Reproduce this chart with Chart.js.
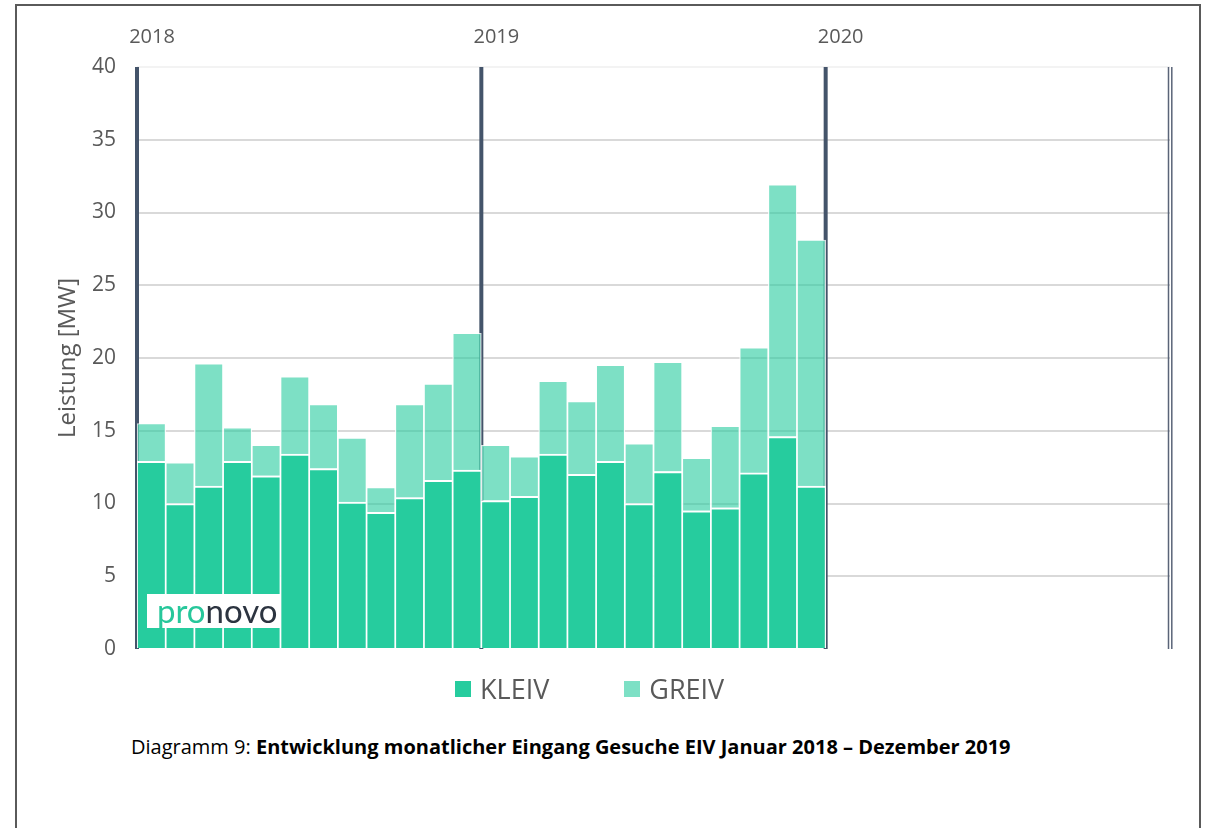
<!DOCTYPE html>
<html>
<head>
<meta charset="utf-8">
<script src="https://cdn.jsdelivr.net/npm/chart.js@4"></script>
<style>
  html, body { margin: 0; background: #fff; font-family: 'Open Sans', sans-serif; overflow: hidden; }
  #wrap { position: relative; width: 1209px; height: 828px; overflow: hidden; }
  .edge { position: absolute; background: #5a5a5a; }
  #chart { position: absolute; left: 0; top: 0; }
  #logo { position: absolute; left: 147px; top: 594px; width: 133px; height: 34px; background: #fff;
          font-family: 'Lato', 'Open Sans', sans-serif; font-weight: 400; font-size: 33px; line-height: 32px;
          padding-left: 10px; box-sizing: border-box; color: #2c3440; white-space: nowrap; }
  #logo span { color: #27c79b; }
  #legend { position: absolute; top: 670px; left: 455px; font-size: 27px; color: #595959; display: flex; }
  .item { display: flex; align-items: center; margin-right: 75px; }
  .box { width: 16px; height: 16px; margin-right: 9px; }
  #caption { position: absolute; left: 131px; top: 733px; font-size: 20px; color: #000; white-space: nowrap; }
</style>
</head>
<body>
<div id="wrap">
  <div class="edge" style="left:15px; top:4px; width:1186px; height:2px"></div>
  <div class="edge" style="left:15px; top:4px; width:2px; height:824px"></div>
  <div class="edge" style="left:1199px; top:4px; width:2px; height:824px"></div>
  <canvas id="chart" width="1209" height="720"></canvas>
  <div id="logo"><span>pro</span>novo</div>
  <div id="legend"></div>
  <div id="caption">Diagramm 9: <b>Entwicklung monatlicher Eingang Gesuche EIV Januar 2018 – Dezember 2019</b></div>
</div>
<script>
// Monthly values [MW], Jan 2018 - Dec 2019
const months = ['Jan', 'Feb', 'Mär', 'Apr', 'Mai', 'Jun', 'Jul', 'Aug', 'Sep', 'Okt', 'Nov', 'Dez'];
const years = ['2018', '2019', '2020'];
const kleiv = [12.9, 10.0, 11.2, 12.9, 11.9, 13.4, 12.4, 10.1, 9.4, 10.4, 11.6, 12.3,
               10.2, 10.5, 13.4, 12.0, 12.9, 10.0, 12.2, 9.5, 9.7, 12.1, 14.6, 11.2];
const greiv = [2.6, 2.8, 8.4, 2.3, 2.1, 5.3, 4.4, 4.4, 1.7, 6.4, 6.6, 9.4,
               3.8, 2.7, 5.0, 5.0, 6.6, 4.1, 7.5, 3.6, 5.6, 8.6, 17.3, 16.9];
const yTicks = [0, 5, 10, 15, 20, 25, 30, 35, 40];

const colKleiv = '#26cc9e';
const colGreiv = 'rgba(38, 204, 158, 0.6)';

// 36 monthly slots: 2018, 2019 and (empty) 2020
const categories = [];
years.forEach(y => months.forEach(m => categories.push(m + ' ' + y)));

// legend in html
const legendEl = document.getElementById('legend');
[['KLEIV', colKleiv], ['GREIV', colGreiv]].forEach(([name, c]) => {
    const it = document.createElement('div');
    it.className = 'item';
    it.innerHTML = `<div class="box" style="background:${c}"></div>${name}`;
    legendEl.appendChild(it);
});

// year separator lines and labels
const yearLines = {
    id: 'yearLines',
    beforeDatasetsDraw(chart) {
        const x = chart.scales.x, area = chart.chartArea, ctx = chart.ctx;
        const half = (x.getPixelForValue(1) - x.getPixelForValue(0)) / 2;
        ctx.save();
        years.forEach((y, i) => {
            const px = x.getPixelForValue(i * 12) - half;
            ctx.strokeStyle = '#44546a';
            ctx.lineWidth = 4;
            ctx.beginPath();
            ctx.moveTo(px, area.top);
            ctx.lineTo(px, area.bottom);
            ctx.stroke();
            ctx.fillStyle = '#595959';
            ctx.font = '20px "Open Sans"';
            ctx.textAlign = 'center';
            ctx.textBaseline = 'middle';
            ctx.fillText(y, px + 15, 37);
        });
        // double line closing 2020
        const end = x.getPixelForValue(categories.length - 1) + half;
        ctx.strokeStyle = '#5a6478';
        ctx.lineWidth = 1.5;
        [end - 1.5, end + 1.8].forEach(px => {
            ctx.beginPath();
            ctx.moveTo(px, area.top);
            ctx.lineTo(px, area.bottom);
            ctx.stroke();
        });
        ctx.restore();
    }
};

new Chart(document.getElementById('chart'), {
    type: 'bar',
    data: {
        labels: categories,
        datasets: [
            { label: 'KLEIV', data: kleiv, backgroundColor: colKleiv, borderColor: '#fff',
              borderWidth: { left: 1.2, right: 1.2, top: 2, bottom: 0 }, borderSkipped: false },
            { label: 'GREIV', data: greiv, backgroundColor: colGreiv, borderColor: 'rgba(255,255,255,0.8)',
              borderWidth: { left: 1.2, right: 1.2, top: 1, bottom: 0 }, borderSkipped: false }
        ]
    },
    options: {
        responsive: false,
        animation: false,
        layout: { padding: { left: 52, right: 39, top: 67, bottom: 71 } },
        plugins: { legend: { display: false }, tooltip: { enabled: false } },
        datasets: { bar: { barPercentage: 1, categoryPercentage: 1 } },
        scales: {
            x: { stacked: true, display: false },
            y: {
                stacked: true, min: 0, max: 40,
                afterFit: s => { s.width = 85; },
                afterBuildTicks: s => { s.ticks = yTicks.map(v => ({ value: v })); },
                border: { display: false },
                grid: {
                    drawTicks: false, lineWidth: 2,
                    color: c => c.tick.value === 0 ? 'rgba(0,0,0,0)' : (c.tick.value === 40 ? '#f3f3f3' : '#d9d9d9')
                },
                ticks: { padding: 21, color: '#595959', font: { family: 'Open Sans', size: 21 } },
                title: { display: true, text: 'Leistung [MW]', color: '#595959', padding: 2,
                         font: { family: 'Open Sans', size: 24 } }
            }
        }
    },
    plugins: [yearLines]
});
</script>
</body>
</html>
